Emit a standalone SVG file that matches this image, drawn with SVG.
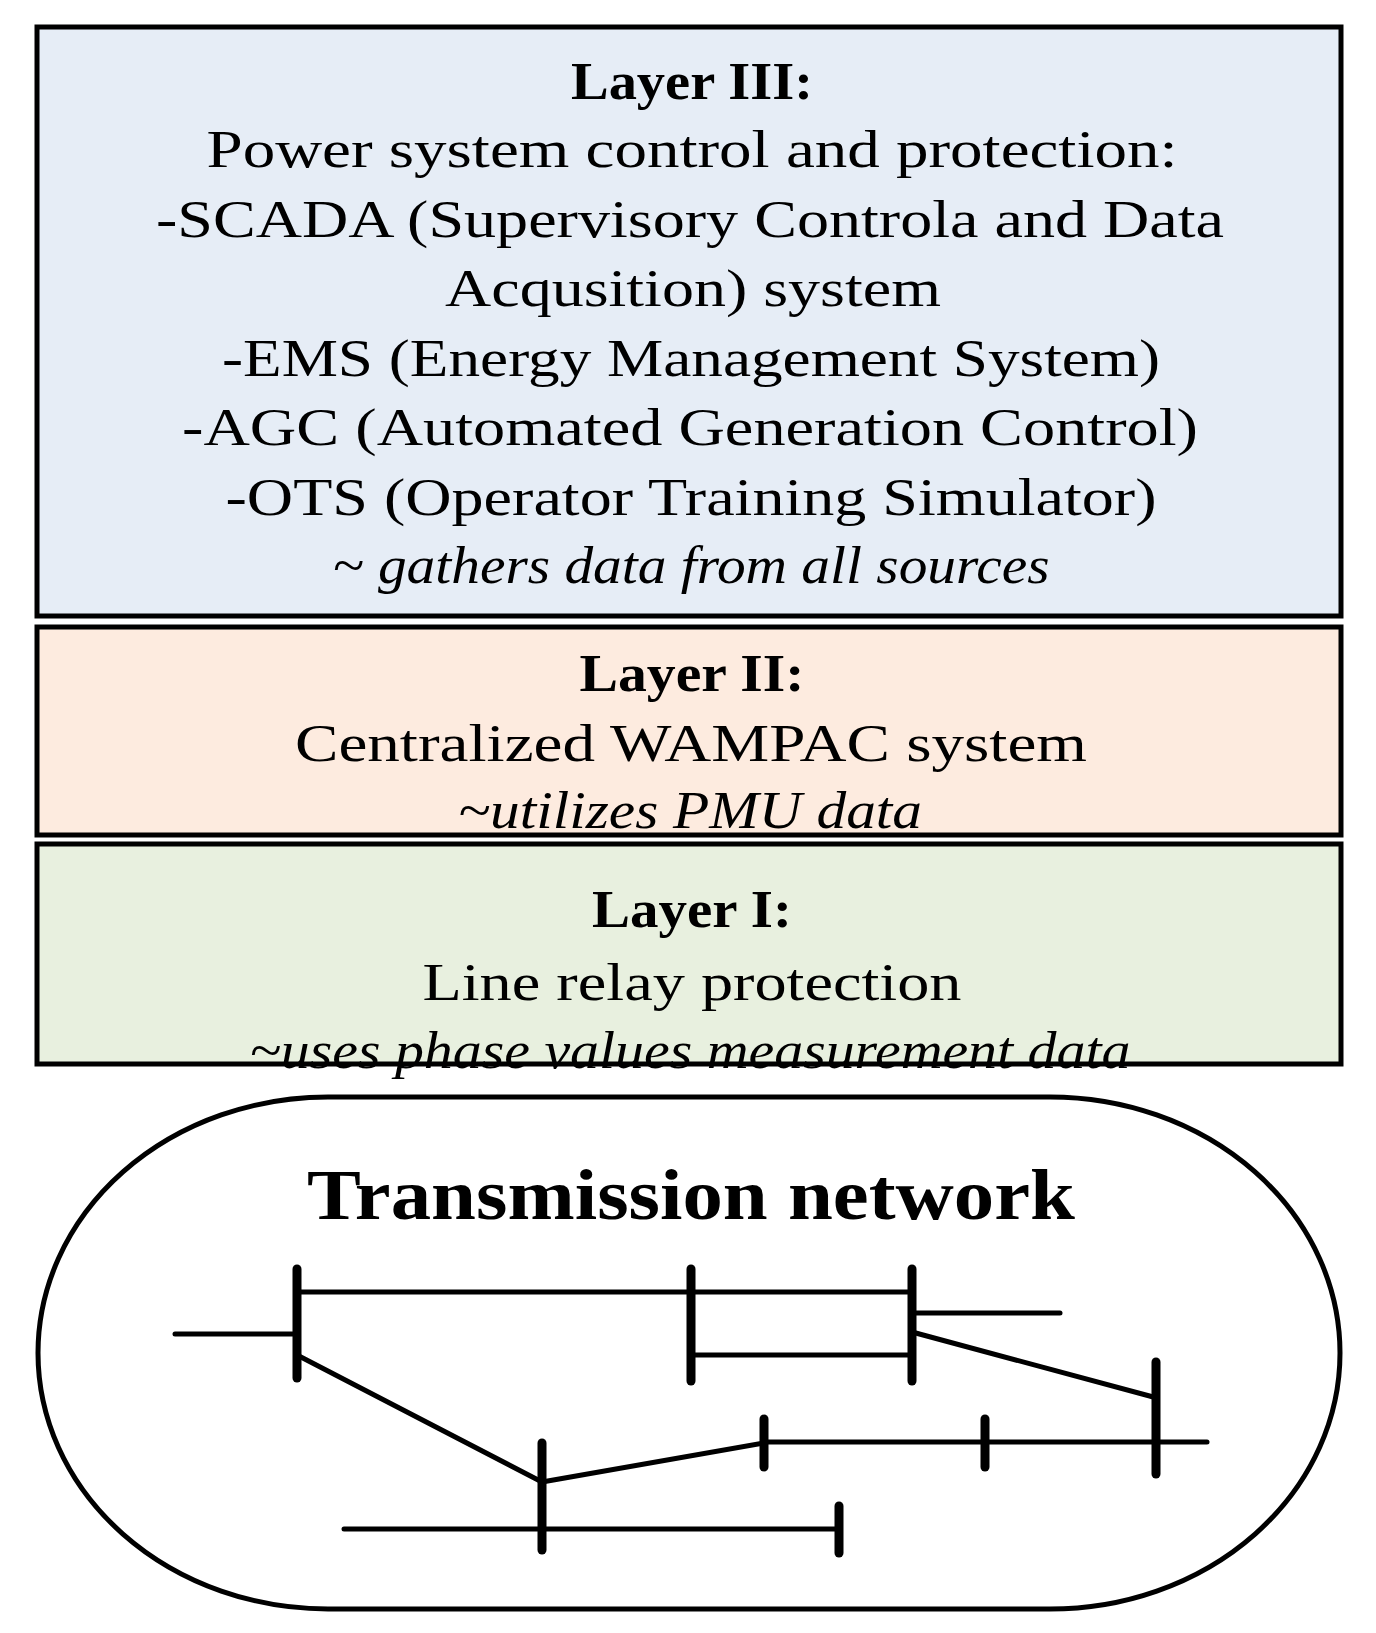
<svg xmlns="http://www.w3.org/2000/svg" width="1376" height="1633" viewBox="0 0 1376 1633">
<style>
.box{stroke:#000;stroke-width:5}
text{font-family:"Liberation Serif",serif;font-size:52px;text-anchor:middle;fill:#000}
.b{font-weight:bold}
.i{font-style:italic}
.ln{stroke:#000;stroke-width:5;fill:none;stroke-linecap:round}
.bus{stroke:#000;stroke-width:9;stroke-linecap:round}
</style>
<rect width="1376" height="1633" fill="#fff"/>
<g id="layer3">
<rect class="box" x="37" y="27" width="1304" height="589" fill="#e6edf6"/>
<text class="b" x="692" y="99" textLength="242" lengthAdjust="spacingAndGlyphs">Layer III:</text>
<text x="692" y="167" textLength="971" lengthAdjust="spacingAndGlyphs">Power system control and protection:</text>
<text x="690" y="237" textLength="1068" lengthAdjust="spacingAndGlyphs">-SCADA (Supervisory Controla and Data</text>
<text x="693" y="306" textLength="496" lengthAdjust="spacingAndGlyphs">Acqusition) system</text>
<text x="691" y="376" textLength="938" lengthAdjust="spacingAndGlyphs">-EMS (Energy Management System)</text>
<text x="690" y="445" textLength="1016" lengthAdjust="spacingAndGlyphs">-AGC (Automated Generation Control)</text>
<text x="691" y="515" textLength="931" lengthAdjust="spacingAndGlyphs">-OTS (Operator Training Simulator)</text>
<text class="i" x="691" y="583" textLength="717" lengthAdjust="spacingAndGlyphs">~ gathers data from all sources</text>
</g>
<g id="layer2">
<rect class="box" x="37" y="627" width="1304" height="208" fill="#fdebdf"/>
<text class="b" x="692" y="691" textLength="225" lengthAdjust="spacingAndGlyphs">Layer II:</text>
<text x="691" y="761" textLength="792" lengthAdjust="spacingAndGlyphs">Centralized WAMPAC system</text>
<text class="i" x="690" y="828" textLength="464" lengthAdjust="spacingAndGlyphs">~utilizes PMU data</text>
</g>
<g id="layer1">
<rect class="box" x="37" y="844" width="1304" height="220" fill="#e8f0df"/>
<text class="b" x="692" y="927" textLength="200" lengthAdjust="spacingAndGlyphs">Layer I:</text>
<text x="692" y="1000" textLength="539" lengthAdjust="spacingAndGlyphs">Line relay protection</text>
<text class="i" x="690" y="1068" textLength="881" lengthAdjust="spacingAndGlyphs">~uses phase values measurement data</text>
</g>
<g id="network">
<rect x="38" y="1097" width="1302" height="512" rx="290" ry="256" fill="none" stroke="#000" stroke-width="5"/>
<text class="b" x="691" y="1219" style="font-size:72px" textLength="768" lengthAdjust="spacingAndGlyphs">Transmission network</text>
</g>
<g id="connectors">
<line class="ln" x1="175" y1="1334" x2="297" y2="1334"/>
<line class="ln" x1="297" y1="1292" x2="912" y2="1292"/>
<line class="ln" x1="691" y1="1355" x2="912" y2="1355"/>
<line class="ln" x1="912" y1="1313" x2="1060" y2="1313"/>
<line class="ln" x1="912" y1="1332" x2="1157" y2="1398"/>
<line class="ln" x1="764" y1="1442" x2="1207" y2="1442"/>
<line class="ln" x1="297" y1="1355" x2="542" y2="1482"/>
<line class="ln" x1="542" y1="1482" x2="764" y2="1443"/>
<line class="ln" x1="344" y1="1529" x2="839" y2="1529"/>
<line class="bus" x1="297" y1="1269" x2="297" y2="1378"/>
<line class="bus" x1="691" y1="1269" x2="691" y2="1381"/>
<line class="bus" x1="912" y1="1269" x2="912" y2="1381"/>
<line class="bus" x1="1156" y1="1362" x2="1156" y2="1474"/>
<line class="bus" x1="764" y1="1419" x2="764" y2="1467"/>
<line class="bus" x1="985" y1="1419" x2="985" y2="1467"/>
<line class="bus" x1="542" y1="1443" x2="542" y2="1550"/>
<line class="bus" x1="839" y1="1506" x2="839" y2="1553"/>
</g>
</svg>
